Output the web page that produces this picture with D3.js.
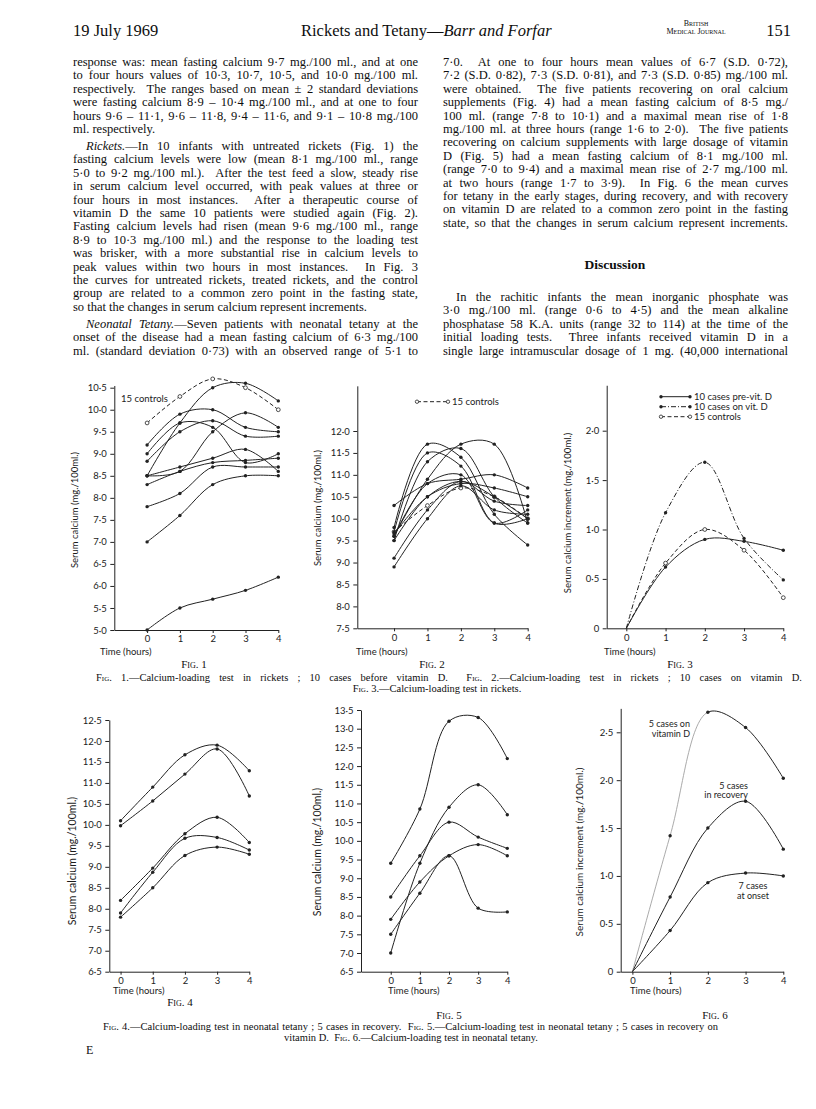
<!DOCTYPE html>
<html>
<head>
<meta charset="utf-8">
<script src="https://cdn.jsdelivr.net/npm/d3@7"></script>
<style>
  body { margin: 0; background: #fff; }
  svg { display: block; }
  .serif { font-family: "Liberation Serif", "Times New Roman", serif; fill: #0e0e0e; white-space: pre; }
  .sans { font-family: Lato, "Open Sans", sans-serif; fill: #1c1c1c; }
</style>
</head>
<body>
<svg id="page" width="816" height="1109"></svg>
<script>
const hours = [0, 1, 2, 3, 4];

// Fig. 1 – untreated rickets
const fig1Controls = [9.7, 10.3, 10.7, 10.5, 10.0];
const fig1Cases = [
  [9.2, 9.9, 10.0, 9.6, 9.5],
  [9.0, 9.7, 9.6, 8.8, 9.0],
  [8.83, 9.5, 9.75, 9.4, 9.4],
  [8.5, 9.7, 10.5, 10.6, 10.2],
  [8.5, 8.6, 9.5, 9.93, 9.6],
  [8.5, 8.7, 8.9, 9.1, 8.6],
  [8.3, 8.6, 8.8, 8.85, 8.9],
  [7.8, 8.1, 8.7, 8.7, 8.7],
  [7.0, 7.6, 8.3, 8.5, 8.5],
  [5.0, 5.5, 5.7, 5.9, 6.2]
];
const fig1YTicks = [5.0, 5.5, 6.0, 6.5, 7.0, 7.5, 8.0, 8.5, 9.0, 9.5, 10.0, 10.5];

// Fig. 2 – same cases on vitamin D
const fig2Controls = [9.7, 10.3, 10.7, 10.5, 10.0];
const fig2Cases = [
  [9.8, 11.7, 11.4, 10.1, 9.4],
  [9.7, 11.5, 11.2, 9.9, 10.0],
  [9.5, 11.3, 11.6, 10.5, 9.9],
  [9.6, 10.9, 11.7, 11.7, 9.9],
  [10.3, 10.8, 10.9, 11.0, 10.7],
  [9.65, 10.5, 10.8, 10.7, 10.5],
  [9.1, 10.2, 10.85, 10.4, 10.3],
  [8.9, 10.0, 10.75, 10.2, 10.1],
  [9.6, 10.8, 11.0, 9.9, 10.2],
  [9.5, 10.5, 10.85, 10.5, 10.0]
];
const fig2YTicks = [7.5, 8.0, 8.5, 9.0, 9.5, 10.0, 10.5, 11.0, 11.5, 12.0];

// Fig. 3 – mean increments
const fig3PreVitD = [0, 0.62, 0.9, 0.88, 0.79];
const fig3OnVitD = [0, 1.17, 1.68, 0.91, 0.49];
const fig3Controls = [0, 0.66, 1.0, 0.79, 0.31];
const fig3YTicks = [0, 0.5, 1.0, 1.5, 2.0];

// Fig. 4 – neonatal tetany, recovery
const fig4Cases = [
  [10.1, 10.9, 11.67, 11.9, 11.29],
  [9.98, 10.57, 11.21, 11.81, 10.69],
  [8.2, 8.97, 9.79, 10.18, 9.58],
  [7.9, 8.87, 9.68, 9.7, 9.4],
  [7.8, 8.5, 9.27, 9.47, 9.3]
];
const fig4YTicks = [6.5, 7.0, 7.5, 8.0, 8.5, 9.0, 9.5, 10.0, 10.5, 11.0, 11.5, 12.0, 12.5];

// Fig. 5 – recovery on vitamin D
const fig5Cases = [
  [9.4, 10.85, 13.2, 13.3, 12.2],
  [7.0, 9.4, 10.9, 11.5, 10.7],
  [8.5, 9.6, 10.5, 10.1, 9.8],
  [7.9, 8.9, 9.6, 9.9, 9.6],
  [7.5, 8.6, 9.6, 8.2, 8.1]
];
const fig5YTicks = [6.5, 7.0, 7.5, 8.0, 8.5, 9.0, 9.5, 10.0, 10.5, 11.0, 11.5, 12.0, 12.5, 13.0, 13.5];

// Fig. 6 – mean increments in tetany
const fig6OnVitD = [0, 1.42, 2.71, 2.55, 2.02];
const fig6Recovery = [0, 0.78, 1.5, 1.78, 1.28];
const fig6Onset = [0, 0.43, 0.93, 1.03, 1.0];
const fig6YTicks = [0, 0.5, 1.0, 1.5, 2.0, 2.5];

const leftColumn = [
  'response was: mean fasting calcium 9·7 mg./100 ml., and at one',
  'to four hours values of 10·3, 10·7, 10·5, and 10·0 mg./100 ml.',
  'respectively.  The ranges based on mean ± 2 standard deviations',
  'were fasting calcium 8·9 – 10·4 mg./100 ml., and at one to four',
  'hours 9·6 – 11·1, 9·6 – 11·8, 9·4 – 11·6, and 9·1 – 10·8 mg./100',
  '!ml. respectively.',
  '>_Rickets._—In 10 infants with untreated rickets (Fig. 1) the',
  'fasting calcium levels were low (mean 8·1 mg./100 ml., range',
  '5·0 to 9·2 mg./100 ml.).  After the test feed a slow, steady rise',
  'in serum calcium level occurred, with peak values at three or',
  'four hours in most instances.  After a therapeutic course of',
  'vitamin D the same 10 patients were studied again (Fig. 2).',
  'Fasting calcium levels had risen (mean 9·6 mg./100 ml., range',
  '8·9 to 10·3 mg./100 ml.) and the response to the loading test',
  'was brisker, with a more substantial rise in calcium levels to',
  'peak values within two hours in most instances.  In Fig. 3',
  'the curves for untreated rickets, treated rickets, and the control',
  'group are related to a common zero point in the fasting state,',
  '!so that the changes in serum calcium represent increments.',
  '>_Neonatal Tetany._—Seven patients with neonatal tetany at the',
  'onset of the disease had a mean fasting calcium of 6·3 mg./100',
  'ml. (standard deviation 0·73) with an observed range of 5·1 to'
];
const rightColumn = [
  '7·0.  At one to four hours mean values of 6·7 (S.D. 0·72),',
  '7·2 (S.D. 0·82), 7·3 (S.D. 0·81), and 7·3 (S.D. 0·85) mg./100 ml.',
  'were obtained.  The five patients recovering on oral calcium',
  'supplements (Fig. 4) had a mean fasting calcium of 8·5 mg./',
  '100 ml. (range 7·8 to 10·1) and a maximal mean rise of 1·8',
  'mg./100 ml. at three hours (range 1·6 to 2·0).  The five patients',
  'recovering on calcium supplements with large dosage of vitamin',
  'D (Fig. 5) had a mean fasting calcium of 8·1 mg./100 ml.',
  '(range 7·0 to 9·4) and a maximal mean rise of 2·7 mg./100 ml.',
  'at two hours (range 1·7 to 3·9).  In Fig. 6 the mean curves',
  'for tetany in the early stages, during recovery, and with recovery',
  'on vitamin D are related to a common zero point in the fasting',
  'state, so that the changes in serum calcium represent increments.'
];
const discussionColumn = [
  '>In the rachitic infants the mean inorganic phosphate was',
  '3·0 mg./100 ml. (range 0·6 to 4·5) and the mean alkaline',
  'phosphatase 58 K.A. units (range 32 to 114) at the time of the',
  'initial loading tests.  Three infants received vitamin D in a',
  'single large intramuscular dosage of 1 mg. (40,000 international'
];

const svg = d3.select('#page');
const ink = '#222';

// ---------- running head ----------
const head = svg.append('g').attr('class', 'serif').attr('font-size', 16.5);
head.append('text').attr('x', 73).attr('y', 36).text('19  July  1969');
const title = head.append('text').attr('x', 301).attr('y', 36);
title.append('tspan').text('Rickets and Tetany—');
title.append('tspan').attr('font-style', 'italic').text('Barr and Forfar');
head.append('text').attr('x', 696).attr('y', 26).attr('font-size', 8)
  .attr('text-anchor', 'middle').attr('font-variant', 'small-caps').text('British');
head.append('text').attr('x', 696).attr('y', 34).attr('font-size', 8)
  .attr('text-anchor', 'middle').attr('font-variant', 'small-caps').text('Medical Journal');
head.append('text').attr('x', 791).attr('y', 36).attr('text-anchor', 'end').text('151');

// ---------- body text ----------
// '!' = last line of paragraph, '>' = indented first line, _x_ = italic
function setLine(x, y, width, raw, size) {
  let s = raw, justify = true, indent = 0;
  if (s[0] === '!') { justify = false; s = s.slice(1); }
  if (s[0] === '>') { indent = 13; s = s.slice(1); }
  const t = svg.append('text').attr('class', 'serif').attr('font-size', size)
    .attr('x', x + indent).attr('y', y);
  s.split('_').forEach((part, i) => {
    if (part) t.append('tspan').attr('font-style', i % 2 ? 'italic' : null).text(part);
  });
  if (justify) {
    const natural = t.node().getComputedTextLength();
    const spaces = (s.match(/ /g) || []).length;
    if (spaces) t.attr('word-spacing', (width - indent - natural) / spaces);
  }
  return t;
}

const lineStep = 13.4;
let yy = 66;
leftColumn.forEach((l, i) => {
  if (l[0] === '>' && i > 0) yy += 3.6;
  setLine(73, yy, 345, l, 12.5);
  yy += lineStep;
});
rightColumn.forEach((l, i) => setLine(443, 66 + i * lineStep, 345, l, 12.5));
svg.append('text').attr('class', 'serif').attr('font-size', 13.5).attr('font-weight', 'bold')
  .attr('x', 615).attr('y', 268.5).attr('text-anchor', 'middle').text('Discussion');
discussionColumn.forEach((l, i) => setLine(443, 301 + i * lineStep, 345, l, 12.5));

// ---------- figures ----------
const fmtTick = v => (v === 0 ? '0' : d3.format('.1f')(v).replace('.', '·'));
const dashes = { solid: null, dashed: '4,2.5', dashdot: '5,2,1,2' };

function drawFigure(f) {
  const g = svg.append('g').attr('class', 'sans');
  const cal = d3.scaleLinear().domain(f.yCal).range(f.yPix);
  const y = d3.scaleLinear().domain([f.yTicks[0], f.yTop])
    .range([cal(f.yTicks[0]), cal(f.yTop)]);
  const x = d3.scaleLinear().domain([f.xStart, 4]).range(f.xPix);

  const yAxis = g.append('g').attr('transform', `translate(${x(f.xStart)},0)`)
    .call(d3.axisLeft(y).tickValues(f.yTicks).tickFormat(fmtTick)
      .tickSize(4).tickSizeOuter(0).tickPadding(3.5));
  const xAxis = g.append('g').attr('transform', `translate(0,${y(f.yTicks[0])})`)
    .call(d3.axisBottom(x).tickValues(hours).tickFormat(d => d)
      .tickSize(3).tickSizeOuter(0).tickPadding(2.5));
  [yAxis, xAxis].forEach(a => a.attr('font-family', 'Lato, sans-serif')
    .attr('font-size', 9.5).style('color', ink));

  // axis titles
  g.append('text').attr('transform', `translate(${f.yLabelX},${f.yLabelY}) rotate(-90)`)
    .attr('text-anchor', 'middle').attr('font-size', f.yLabelSize)
    .text(f.yLabel);
  g.append('text').attr('x', f.timeX).attr('y', f.timeY).attr('font-size', 9.5)
    .text('Time (hours)');
  svg.append('text').attr('class', 'serif').attr('x', f.figX).attr('y', f.figY)
    .attr('text-anchor', 'middle').attr('font-size', 11).attr('font-variant', 'small-caps')
    .text(f.figLabel);

  const line = d3.line().x((d, i) => x(hours[i])).y(d => y(d))
    .curve(d3.curveCatmullRom.alpha(0.5));

  f.series.forEach((s, k) => {
    let target = g;
    if (s.fadeUntil !== undefined) {
      // the early part of this curve is printed faint in the original
      const id = `clip${f.figLabel.replace(/\W/g, '')}${k}`;
      const defs = svg.append('defs');
      defs.append('clipPath').attr('id', id + 'a').append('rect')
        .attr('x', 0).attr('y', 0).attr('width', x(s.fadeUntil)).attr('height', 1109);
      defs.append('clipPath').attr('id', id + 'b').append('rect')
        .attr('x', x(s.fadeUntil)).attr('y', 0).attr('width', 816).attr('height', 1109);
      g.append('path').attr('d', line(s.values)).attr('fill', 'none')
        .attr('stroke', '#a0a0a0').attr('stroke-width', 0.9).attr('clip-path', `url(#${id}a)`);
      target = g.append('g').attr('clip-path', `url(#${id}b)`);
    }
    target.append('path').attr('d', line(s.values)).attr('fill', 'none')
      .attr('stroke', ink).attr('stroke-width', 1)
      .attr('stroke-dasharray', dashes[s.style || 'solid']);
    g.selectAll(null).data(s.values.map((v, i) => [i, v]).filter(d => d[0] >= (s.firstMark || 0)))
      .join('circle')
      .attr('cx', d => x(hours[d[0]])).attr('cy', d => y(d[1]))
      .attr('r', s.open ? 1.9 : 1.7)
      .attr('fill', s.open ? '#fff' : ink)
      .attr('stroke', ink).attr('stroke-width', s.open ? 0.8 : 0);
  });

  (f.notes || []).forEach(n => g.append('text').attr('x', n.x).attr('y', n.y)
    .attr('font-size', n.size || 9.5).attr('text-anchor', n.anchor || 'start').text(n.text));

  (f.legend || []).forEach(l => {
    g.append('line').attr('x1', l.x1).attr('x2', l.x2).attr('y1', l.y).attr('y2', l.y)
      .attr('stroke', ink).attr('stroke-dasharray', dashes[l.style]);
    [l.x1, l.x2].forEach(cx => g.append('circle').attr('cx', cx).attr('cy', l.y)
      .attr('r', 1.7).attr('fill', l.open ? '#fff' : ink)
      .attr('stroke', ink).attr('stroke-width', l.open ? 0.8 : 0));
    g.append('text').attr('x', l.x2 + 4).attr('y', l.y + 3.3).attr('font-size', 9.5).text(l.text);
  });
}

const serumLabel = 'Serum calcium (mg./100ml.)';
const incLabel = 'Serum calcium increment (mg./100ml.)';

drawFigure({
  figLabel: 'Fig. 1', figX: 194, figY: 667.5, timeX: 100, timeY: 655,
  xStart: -1, xPix: [114.3, 278.3], yCal: [5.0, 10.5], yPix: [630, 387.7], yTop: 10.55,
  yTicks: fig1YTicks, yLabel: serumLabel, yLabelX: 78, yLabelY: 510, yLabelSize: 9.5,
  series: [{ values: fig1Controls, style: 'dashed', open: true }]
    .concat(fig1Cases.map(v => ({ values: v }))),
  notes: [{ x: 121, y: 401.5, text: '15 controls' }]
});

drawFigure({
  figLabel: 'Fig. 2', figX: 432, figY: 667.5, timeX: 356, timeY: 655,
  xStart: -1.1, xPix: [357.3, 527.7], yCal: [7.5, 12.0], yPix: [628.3, 431], yTop: 13.03,
  yTicks: fig2YTicks, yLabel: serumLabel, yLabelX: 321, yLabelY: 508, yLabelSize: 9.5,
  series: [{ values: fig2Controls, style: 'dashed', open: true }]
    .concat(fig2Cases.map(v => ({ values: v }))),
  legend: [{ x1: 417, x2: 448, y: 401.7, style: 'dashed', open: true, text: '15 controls' }]
});

drawFigure({
  figLabel: 'Fig. 3', figX: 680, figY: 667.5, timeX: 604, timeY: 655,
  xStart: -0.5, xPix: [606.7, 783.3], yCal: [0, 2.0], yPix: [628.3, 430.7], yTop: 2.46,
  yTicks: fig3YTicks, yLabel: incLabel, yLabelX: 571, yLabelY: 513, yLabelSize: 9.5,
  series: [
    { values: fig3PreVitD, firstMark: 1 },
    { values: fig3OnVitD, style: 'dashdot', firstMark: 1 },
    { values: fig3Controls, style: 'dashed', open: true, firstMark: 1 }
  ],
  legend: [
    { x1: 661, x2: 690, y: 396.7, style: 'solid', text: '10 cases pre-vit. D' },
    { x1: 661, x2: 690, y: 406.7, style: 'dashdot', text: '10 cases on vit. D' },
    { x1: 661, x2: 690, y: 416.7, style: 'dashed', open: true, text: '15 controls' }
  ]
});

drawFigure({
  figLabel: 'Fig. 4', figX: 180, figY: 1005.5, timeX: 113, timeY: 993.5,
  xStart: -0.35, xPix: [109.3, 249.3], yCal: [6.5, 12.5], yPix: [971.7, 720], yTop: 12.5,
  yTicks: fig4YTicks, yLabel: serumLabel, yLabelX: 76, yLabelY: 861, yLabelSize: 10.5,
  series: fig4Cases.map(v => ({ values: v }))
});

drawFigure({
  figLabel: 'Fig. 5', figX: 449, figY: 1018.5, timeX: 388, timeY: 993.5,
  xStart: -1.02, xPix: [361, 507.3], yCal: [6.5, 13.5], yPix: [971.7, 710], yTop: 13.5,
  yTicks: fig5YTicks, yLabel: serumLabel, yLabelX: 321, yLabelY: 852, yLabelSize: 10.5,
  series: fig5Cases.map(v => ({ values: v }))
});

drawFigure({
  figLabel: 'Fig. 6', figX: 715, figY: 1018.5, timeX: 630, timeY: 993.5,
  xStart: -0.31, xPix: [620.7, 783.3], yCal: [0, 2.5], yPix: [971.7, 732.3], yTop: 2.75,
  yTicks: fig6YTicks, yLabel: incLabel, yLabelX: 583, yLabelY: 852, yLabelSize: 10,
  series: [
    { values: fig6OnVitD, firstMark: 1, fadeUntil: 2 },
    { values: fig6Recovery, firstMark: 1 },
    { values: fig6Onset, firstMark: 1 }
  ],
  notes: [
    { x: 690, y: 727, text: '5 cases on', anchor: 'end', size: 9 },
    { x: 690, y: 736.5, text: 'vitamin D', anchor: 'end', size: 9 },
    { x: 748, y: 788.5, text: '5 cases', anchor: 'end', size: 9 },
    { x: 748, y: 798, text: 'in recovery', anchor: 'end', size: 9 },
    { x: 753, y: 889, text: '7 cases', anchor: 'middle', size: 9 },
    { x: 753, y: 898.5, text: 'at onset', anchor: 'middle', size: 9 }
  ]
});

// ---------- legends under the figures ----------
function caption(x, y, width, parts, anchor) {
  const t = svg.append('text').attr('class', 'serif').attr('font-size', 10.5)
    .attr('x', x).attr('y', y).attr('text-anchor', anchor || 'start');
  parts.forEach(p => t.append('tspan').attr('font-variant', p.sc ? 'small-caps' : null).text(p.t));
  if (width) {
    const natural = t.node().getComputedTextLength();
    const spaces = (t.text().match(/ /g) || []).length;
    t.attr('word-spacing', (width - natural) / spaces);
  }
}
caption(96, 680.5, 706, [
  { t: 'Fig.', sc: true }, { t: ' 1.—Calcium-loading test in rickets ; 10 cases before vitamin D.  ' },
  { t: 'Fig.', sc: true }, { t: ' 2.—Calcium-loading test in rickets ; 10 cases on vitamin D.' }
]);
caption(437, 691.5, 0, [{ t: 'Fig.', sc: true }, { t: ' 3.—Calcium-loading test in rickets.' }], 'middle');
caption(103, 1030, 615, [
  { t: 'Fig.', sc: true }, { t: ' 4.—Calcium-loading test in neonatal tetany ; 5 cases in recovery.  ' },
  { t: 'Fig.', sc: true }, { t: ' 5.—Calcium-loading test in neonatal tetany ; 5 cases in recovery on' }
]);
caption(411, 1041, 0, [{ t: 'vitamin D.  ' }, { t: 'Fig.', sc: true },
  { t: ' 6.—Calcium-loading test in neonatal tetany.' }], 'middle');

svg.append('text').attr('class', 'serif').attr('font-size', 12).attr('x', 86).attr('y', 1054).text('E');
</script>
</body>
</html>
